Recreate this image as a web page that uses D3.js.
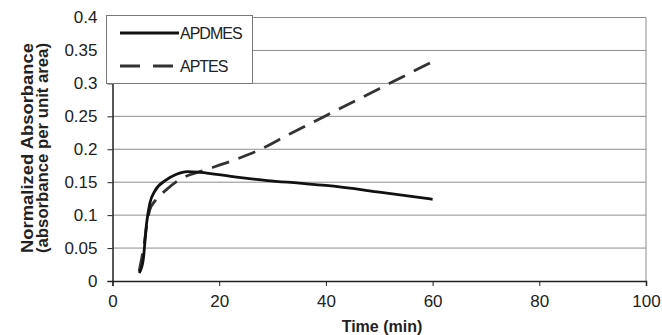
<!DOCTYPE html>
<html>
<head>
<meta charset="utf-8">
<script src="https://cdn.jsdelivr.net/npm/d3@7"></script>
<style>
  body { margin: 0; background: #fff; }
  text { font-family: Arial, "Liberation Sans", sans-serif; }
</style>
</head>
<body>
<svg width="662" height="335"></svg>
<script>
// data
const apdmesTime = [5, 5.75, 6.4, 7, 7.9, 10, 12, 14, 16.4, 22.6, 29, 35, 40, 50, 60];
const apdmesValue = [0.012, 0.032, 0.088, 0.118, 0.136, 0.153, 0.162, 0.166, 0.165, 0.1585, 0.1525, 0.1485, 0.145, 0.135, 0.124];
const aptesTime = [5, 6, 6.5, 7, 8, 10, 13, 16.4, 22.6, 27, 33.3, 40, 50, 60];
const aptesValue = [0.015, 0.06, 0.09, 0.108, 0.122, 0.138, 0.156, 0.166, 0.183, 0.197, 0.2235, 0.251, 0.292, 0.333];
const xTicks = [0, 20, 40, 60, 80, 100];
const yTicks = [0, 0.05, 0.1, 0.15, 0.2, 0.25, 0.3, 0.35, 0.4];
const seriesNames = ["APDMES", "APTES"];

const svg = d3.select("svg");
const x = d3.scaleLinear().domain([0, 100]).range([112.5, 646]);
const y = d3.scaleLinear().domain([0, 0.4]).range([281, 17.5]);

// gridlines
svg.append("g")
    .selectAll("line")
    .data(yTicks.slice(1))
    .enter()
    .append("line")
    .attr("x1", x(0)).attr("x2", x(100))
    .attr("y1", d => y(d)).attr("y2", d => y(d))
    .attr("stroke", "#8c8c8c")
    .attr("stroke-width", 1);

// right border
svg.append("line")
    .attr("x1", x(100)).attr("x2", x(100))
    .attr("y1", y(0.4)).attr("y2", y(0))
    .attr("stroke", "#8c8c8c");

// axes
const xAxis = d3.axisBottom(x).tickValues(xTicks).tickSize(5).tickPadding(9).tickFormat(d3.format("d"));
const yAxis = d3.axisLeft(y).tickValues(yTicks).tickSize(5).tickPadding(10).tickFormat(d => d === 0 ? "0" : String(d));

const gx = svg.append("g").attr("transform", `translate(0,${y(0)})`).call(xAxis);
const gy = svg.append("g").attr("transform", `translate(${x(0)},0)`).call(yAxis);
[gx, gy].forEach(g => {
    g.select(".domain").attr("stroke", "#222").attr("stroke-width", 1.5);
    g.selectAll(".tick line").attr("stroke", "#222");
    g.selectAll(".tick text").attr("font-size", 17).attr("fill", "#222").attr("font-family", "Arial, 'Liberation Sans', sans-serif");
});

// lines
const line = d3.line().x(d => x(d[0])).y(d => y(d[1])).curve(d3.curveMonotoneX);

svg.append("path")
    .datum(aptesTime.map((t, i) => [t, aptesValue[i]]))
    .attr("d", line)
    .attr("fill", "none")
    .attr("stroke", "#333")
    .attr("stroke-width", 2.8)
    .attr("stroke-dasharray", "18,10");

svg.append("path")
    .datum(apdmesTime.map((t, i) => [t, apdmesValue[i]]))
    .attr("d", line)
    .attr("fill", "none")
    .attr("stroke", "#111")
    .attr("stroke-width", 2.8);

// legend
const legend = svg.append("g");
legend.append("rect")
    .attr("x", 106.5).attr("y", 15.5)
    .attr("width", 146).attr("height", 68)
    .attr("fill", "#fff")
    .attr("stroke", "#777");

seriesNames.forEach((name, i) => {
    const ly = 33 + i * 33;
    legend.append("line")
        .attr("x1", 120).attr("x2", 179)
        .attr("y1", ly).attr("y2", ly)
        .attr("stroke", i === 0 ? "#111" : "#333")
        .attr("stroke-width", 2.8)
        .attr("stroke-dasharray", i === 0 ? null : "20,13");
    legend.append("text")
        .attr("x", 180).attr("y", ly + 6)
        .attr("font-size", 16)
        .attr("letter-spacing", "-1")
        .attr("fill", "#222")
        .text(name);
});

// axis titles
svg.append("text")
    .attr("x", 382).attr("y", 332)
    .attr("text-anchor", "middle")
    .attr("font-size", 16)
    .attr("font-weight", "bold")
    .attr("fill", "#222")
    .text("Time (min)");

const yt = svg.append("text")
    .attr("transform", "translate(32.5,148) rotate(-90)")
    .attr("text-anchor", "middle")
    .attr("font-size", 16.5)
    .attr("font-weight", "bold")
    .attr("fill", "#222");
yt.append("tspan").attr("x", 0).attr("dy", 0)
    .attr("textLength", 210).attr("lengthAdjust", "spacingAndGlyphs")
    .text("Normalized Absorbance");
yt.append("tspan").attr("x", 0).attr("dy", 15.5)
    .attr("textLength", 210).attr("lengthAdjust", "spacingAndGlyphs")
    .text("(absorbance per unit area)");
</script>
</body>
</html>
